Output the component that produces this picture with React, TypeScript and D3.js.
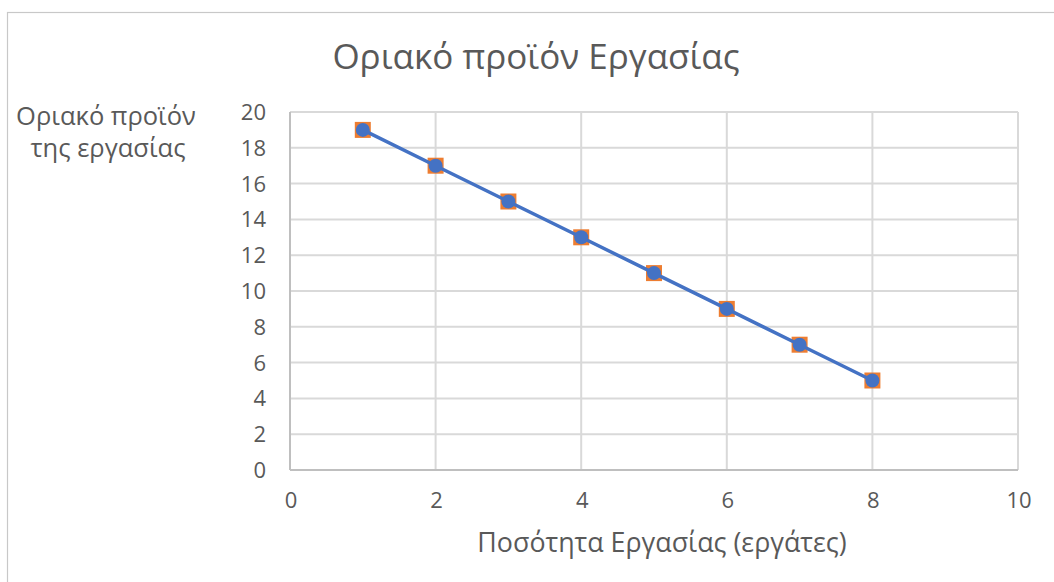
import React from "react";
import * as d3 from "d3";

const workers = [1, 2, 3, 4, 5, 6, 7, 8];
const marginalProduct = [19, 17, 15, 13, 11, 9, 7, 5];
const xTicks = [0, 2, 4, 6, 8, 10];
const yTicks = [0, 2, 4, 6, 8, 10, 12, 14, 16, 18, 20];

const W = 1054;
const H = 582;
const FONT = "'Open Sans', 'Noto Sans', sans-serif";
const TEXT = "#595959";

export default function App() {
  const x = d3.scaleLinear().domain([0, 10]).range([290, 1018]);
  const y = d3.scaleLinear().domain([0, 20]).range([470, 112]);
  const line = d3
    .line<number>()
    .x((_, i) => x(workers[i]))
    .y((d) => y(d));

  return (
    <svg
      width={W}
      height={H}
      style={{ position: "absolute", left: 0, top: 0, background: "#fff" }}
    >
      {/* chart frame, extending past the visible area */}
      <rect x={7.5} y={12.5} width={1100} height={700} fill="#fff" stroke="#c8c8c8" strokeWidth={1.2} />

      <text x={536} y={69} textAnchor="middle" fontFamily={FONT} fontSize={35} fill={TEXT}>
        Οριακό προϊόν Εργασίας
      </text>

      {/* gridlines */}
      {yTicks.map((t) => (
        <line key={"gy" + t} x1={x(0)} x2={x(10)} y1={y(t)} y2={y(t)} stroke="#d9d9d9" strokeWidth={2} />
      ))}
      {xTicks.map((t) => (
        <line key={"gx" + t} x1={x(t)} x2={x(t)} y1={y(0)} y2={y(20)} stroke="#d9d9d9" strokeWidth={2} />
      ))}
      {/* axis lines */}
      <line x1={x(0)} x2={x(10)} y1={y(0)} y2={y(0)} stroke="#bfbfbf" strokeWidth={2} />
      <line x1={x(0)} x2={x(0)} y1={y(0)} y2={y(20)} stroke="#bfbfbf" strokeWidth={2} />

      {/* tick labels */}
      {yTicks.map((t) => (
        <text key={"ly" + t} x={266} y={y(t) + 8} textAnchor="end" fontFamily={FONT} fontSize={22} fill={TEXT}>
          {t}
        </text>
      ))}
      {xTicks.map((t) => (
        <text key={"lx" + t} x={x(t) + 1} y={508} textAnchor="middle" fontFamily={FONT} fontSize={22} fill={TEXT}>
          {t}
        </text>
      ))}

      {/* axis titles */}
      <text x={662} y={552} textAnchor="middle" fontFamily={FONT} fontSize={26.8} fill={TEXT}>
        Ποσότητα Εργασίας (εργάτες)
      </text>
      <text fontFamily={FONT} fontSize={25.5} fill={TEXT} textAnchor="middle">
        <tspan x={106} y={125}>Οριακό προϊόν</tspan>
        <tspan x={108} y={157}>της εργασίας</tspan>
      </text>

      {/* orange square markers */}
      {marginalProduct.map((v, i) => (
        <rect key={"sq" + i} x={x(workers[i]) - 8} y={y(v) - 8} width={16} height={16} fill="#ED7D31" />
      ))}
      {/* blue line with round markers */}
      <path d={line(marginalProduct) || ""} fill="none" stroke="#4472C4" strokeWidth={3.5} />
      {marginalProduct.map((v, i) => (
        <circle key={"c" + i} cx={x(workers[i])} cy={y(v)} r={7} fill="#4472C4" />
      ))}
    </svg>
  );
}
